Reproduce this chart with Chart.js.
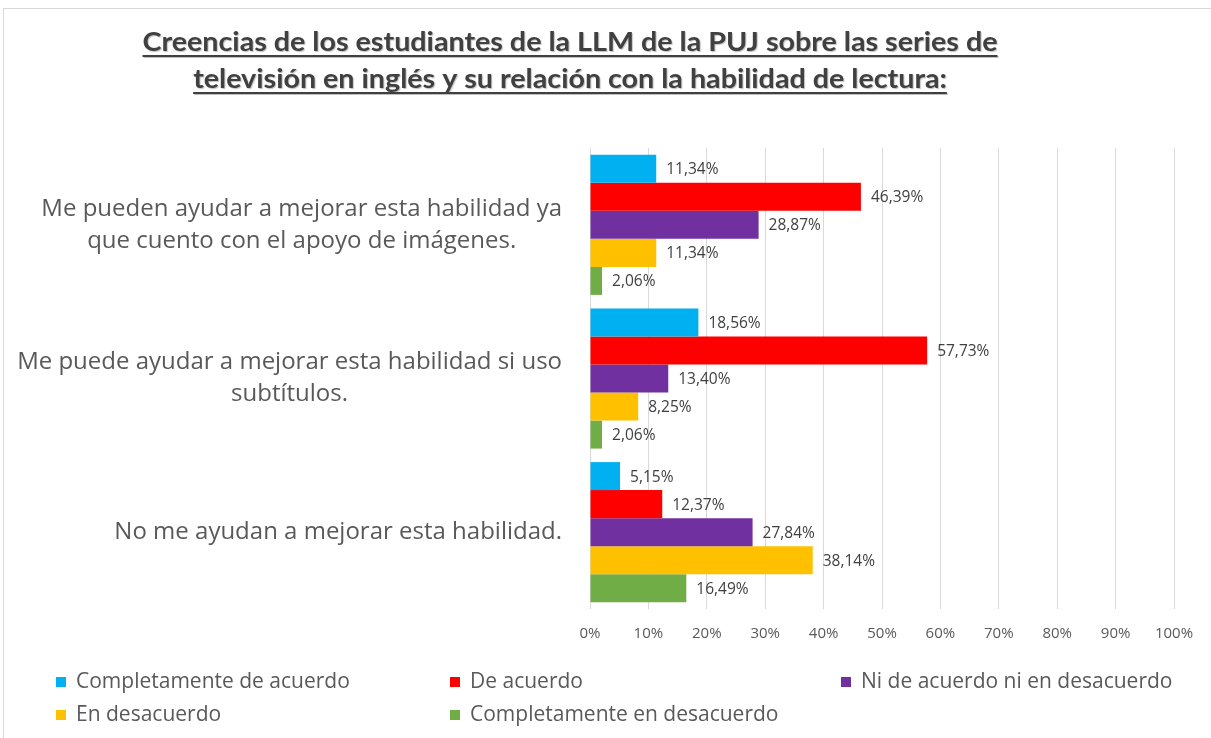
<!DOCTYPE html>
<html>
<head>
<meta charset="utf-8">
<script src="https://cdn.jsdelivr.net/npm/chart.js@4.4.1/dist/chart.umd.min.js"></script>
<style>
  html, body { margin: 0; padding: 0; background: #ffffff; }
  #c { display: block; }
</style>
</head>
<body>
<canvas id="c" width="1211" height="738"></canvas>
<script>
// ---------------- DATA ----------------
const titleLines = [
  "Creencias de los estudiantes de la LLM de la PUJ sobre las series de",
  "televisión en inglés y su relación con la habilidad de lectura:"
];
const categories = [
  ["Me pueden ayudar a mejorar esta habilidad ya", "que cuento con el apoyo de imágenes."],
  ["Me puede ayudar a mejorar esta habilidad si uso", "subtítulos."],
  ["No me ayudan a mejorar esta habilidad."]
];
const seriesNames = [
  "Completamente de acuerdo",
  "De acuerdo",
  "Ni de acuerdo ni en desacuerdo",
  "En desacuerdo",
  "Completamente en desacuerdo"
];
const seriesColors = ["#00B0F0", "#FF0000", "#7030A0", "#FFC000", "#70AD47"];
const completamenteDeAcuerdo = [11.34, 18.56, 5.15];
const deAcuerdo = [46.39, 57.73, 12.37];
const niDeAcuerdoNiEnDesacuerdo = [28.87, 13.40, 27.84];
const enDesacuerdo = [11.34, 8.25, 38.14];
const completamenteEnDesacuerdo = [2.06, 2.06, 16.49];
const seriesValues = [completamenteDeAcuerdo, deAcuerdo, niDeAcuerdoNiEnDesacuerdo, enDesacuerdo, completamenteEnDesacuerdo];
const xMin = 0, xMax = 100, xStep = 10;

// ---------------- STYLE ----------------
const FONT = "'Open Sans', 'DejaVu Sans', sans-serif";
const TITLE_FONT = "bold 27px Lato, 'Open Sans', sans-serif";
const TITLE_COLOR = "#404040";
const TEXT_COLOR = "#595959";
const GRID_COLOR = "#D9D9D9";

const fmt = v => v.toFixed(2).replace('.', ',') + '%';

const decorPlugin = {
  id: 'decor',
  beforeDraw(chart) {
    const ctx = chart.ctx;
    ctx.save();
    ctx.fillStyle = '#ffffff';
    ctx.fillRect(0, 0, chart.width, chart.height);
    ctx.strokeStyle = GRID_COLOR;
    ctx.lineWidth = 1;
    ctx.strokeRect(3.5, 8.5, chart.width + 20, chart.height + 20);
    ctx.restore();
  },
  afterDraw(chart) {
    const ctx = chart.ctx;
    const yScale = chart.scales.y;

    // Title (centered, underlined)
    ctx.save();
    ctx.font = TITLE_FONT;
    const targetW = 855;
    const natural = ctx.measureText(titleLines[0]).width;
    const sx = targetW / natural;
    const cx = 570;
    const baselines = [51, 88];
    titleLines.forEach((line, i) => {
      const w = ctx.measureText(line).width * sx;
      const x0 = cx - w / 2;
      ctx.save();
      ctx.translate(x0, baselines[i]);
      ctx.scale(sx, 1);
      ctx.shadowColor = 'rgba(0,0,0,0.25)';
      ctx.shadowOffsetX = 1;
      ctx.shadowOffsetY = 1;
      ctx.shadowBlur = 1;
      ctx.fillStyle = TITLE_COLOR;
      ctx.textBaseline = 'alphabetic';
      ctx.textAlign = 'left';
      ctx.fillText(line, 0, 0);
      ctx.restore();
      ctx.save();
      ctx.shadowColor = 'rgba(0,0,0,0.25)';
      ctx.shadowOffsetX = 1;
      ctx.shadowOffsetY = 1;
      ctx.fillStyle = TITLE_COLOR;
      ctx.fillRect(x0, baselines[i] + 4, w, 2);
      ctx.restore();
    });
    ctx.restore();

    // Category labels (block right-aligned, lines centered)
    ctx.save();
    ctx.font = "24px " + FONT;
    ctx.fillStyle = TEXT_COLOR;
    ctx.textAlign = 'center';
    ctx.textBaseline = 'middle';
    const rightEdge = 562;
    const lineH = 32;
    categories.forEach((lines, i) => {
      const yc = yScale.getPixelForValue(i);
      const maxW = Math.max(...lines.map(l => ctx.measureText(l).width));
      const xc = rightEdge - maxW / 2;
      lines.forEach((l, k) => {
        const y = yc + (k - (lines.length - 1) / 2) * lineH;
        ctx.fillText(l, xc, y);
      });
    });
    ctx.restore();

    // Data labels
    ctx.save();
    ctx.font = "15.5px " + FONT;
    ctx.fillStyle = "#404040";
    ctx.textAlign = 'left';
    ctx.textBaseline = 'middle';
    chart.data.datasets.forEach((ds, di) => {
      const meta = chart.getDatasetMeta(di);
      meta.data.forEach((bar, j) => {
        ctx.fillText(fmt(ds.data[j]), bar.x + 10, bar.y + 1);
      });
    });
    ctx.restore();

    // Legend (3 columns x 2 rows)
    ctx.save();
    ctx.font = "21px " + FONT;
    ctx.textBaseline = 'middle';
    ctx.textAlign = 'left';
    const pos = [[56, 682], [450, 682], [841, 682], [56, 715], [450, 715]];
    chart.data.datasets.forEach((ds, di) => {
      const [x, y] = pos[di];
      ctx.fillStyle = ds.backgroundColor;
      ctx.fillRect(x, y - 5, 10, 10);
      ctx.fillStyle = TEXT_COLOR;
      ctx.fillText(ds.label, x + 20, y);
    });
    ctx.restore();
  }
};

new Chart(document.getElementById('c'), {
  type: 'bar',
  data: {
    labels: categories.map(c => c.join(' ')),
    datasets: seriesNames.map((name, i) => ({
      label: name,
      data: seriesValues[i],
      backgroundColor: seriesColors[i],
      borderWidth: 0,
      barPercentage: 1.0,
      categoryPercentage: 0.912
    }))
  },
  options: {
    indexAxis: 'y',
    responsive: false,
    animation: false,
    devicePixelRatio: 1,
    layout: { padding: { left: 590, right: 37, top: 148, bottom: 89 } },
    plugins: {
      legend: { display: false },
      title: { display: false },
      tooltip: { enabled: false }
    },
    scales: {
      x: {
        min: xMin, max: xMax,
        afterFit: s => { s.height = 40; },
        ticks: {
          stepSize: xStep,
          callback: v => v + '%',
          color: TEXT_COLOR,
          font: { family: FONT, size: 15 },
          padding: 16,
          maxRotation: 0
        },
        grid: { color: GRID_COLOR, drawTicks: false, lineWidth: 1 },
        border: { display: false }
      },
      y: {
        display: false,
        grid: { display: false }
      }
    }
  },
  plugins: [decorPlugin]
});
</script>
</body>
</html>
